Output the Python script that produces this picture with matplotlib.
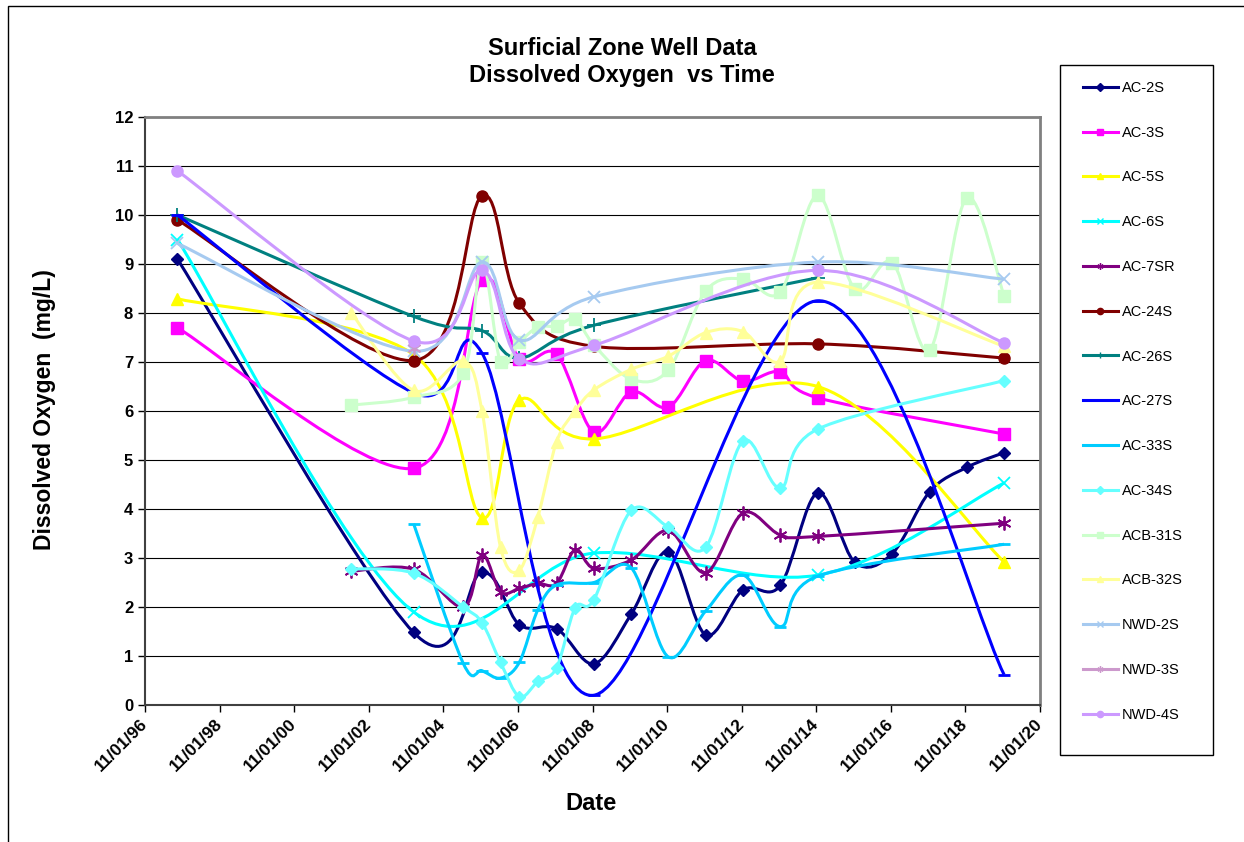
import numpy as np
import pandas as pd
import matplotlib
matplotlib.use('Agg')
import matplotlib.pyplot as plt
import matplotlib.dates as mdates
from matplotlib.path import Path
from matplotlib.patches import PathPatch, Rectangle
from matplotlib.lines import Line2D

plt.rcParams['font.family'] = ['Liberation Sans', 'DejaVu Sans']

# sample dates (year-month) and dissolved oxygen (mg/L) per well
ac2s_dates = ['1997-09', '2004-01', '2005-11', '2006-11', '2007-11', '2008-11', '2009-11', '2010-11',
              '2011-11', '2012-11', '2013-11', '2014-11', '2015-11', '2016-11', '2017-11', '2018-11', '2019-11']
ac2s_do = [9.1, 1.48, 2.71, 1.64, 1.56, 0.84, 1.85, 3.13, 1.43, 2.35, 2.44, 4.33, 2.91, 3.09, 4.35, 4.85, 5.15]

ac3s_dates = ['1997-09', '2004-01', '2005-11', '2006-11', '2007-11', '2008-11', '2009-11', '2010-11',
              '2011-11', '2012-11', '2013-11', '2014-11', '2019-11']
ac3s_do = [7.7, 4.83, 8.67, 7.06, 7.16, 5.57, 6.39, 6.08, 7.03, 6.61, 6.8, 6.27, 5.53]

ac5s_dates = ['1997-09', '2004-01', '2005-11', '2006-11', '2008-11', '2014-11', '2019-11']
ac5s_do = [8.29, 7.15, 3.82, 6.22, 5.43, 6.5, 2.92]

ac6s_dates = ['1997-09', '2004-01', '2008-11', '2014-11', '2019-11']
ac6s_do = [9.5, 1.9, 3.1, 2.65, 4.53]

ac7sr_dates = ['2002-05', '2004-01', '2005-05', '2005-11', '2006-05', '2006-11', '2007-05', '2007-11', '2008-05',
               '2008-11', '2009-11', '2010-11', '2011-11', '2012-11', '2013-11', '2014-11', '2019-11']
ac7sr_do = [2.73, 2.77, 2.0, 3.06, 2.31, 2.38, 2.48, 2.48, 3.17, 2.79, 2.96, 3.56, 2.7, 3.92, 3.47, 3.44, 3.71]

ac24s_dates = ['1997-09', '2004-01', '2005-11', '2006-11', '2008-11', '2014-11', '2019-11']
ac24s_do = [9.9, 7.03, 10.39, 8.2, 7.32, 7.37, 7.08]

ac26s_dates = ['1997-09', '2004-01', '2005-11', '2006-11', '2008-11', '2014-11']
ac26s_do = [10.0, 7.93, 7.64, 7.08, 7.75, 8.72]

ac27s_dates = ['1997-09', '2004-01', '2005-11', '2008-11', '2014-11', '2019-11']
ac27s_do = [10.0, 6.37, 7.18, 0.2, 8.25, 0.62]

ac33s_dates = ['2004-01', '2005-05', '2005-11', '2006-05', '2006-11', '2007-05', '2007-11', '2008-11', '2009-11',
               '2010-11', '2011-11', '2012-11', '2013-11', '2014-11', '2019-11']
ac33s_do = [3.7, 0.85, 0.7, 0.55, 0.87, 1.94, 2.45, 2.5, 2.8, 0.98, 1.92, 2.65, 1.6, 2.63, 3.28]

ac34s_dates = ['2002-05', '2004-01', '2005-05', '2005-11', '2006-05', '2006-11', '2007-05', '2007-11', '2008-05',
               '2008-11', '2009-11', '2010-11', '2011-11', '2012-11', '2013-11', '2014-11', '2019-11']
ac34s_do = [2.78, 2.69, 2.0, 1.68, 0.87, 0.17, 0.48, 0.76, 1.98, 2.15, 3.97, 3.63, 3.22, 5.39, 4.43, 5.63, 6.62]

acb31s_dates = ['2002-05', '2004-01', '2005-05', '2005-11', '2006-05', '2006-11', '2007-05', '2007-11', '2008-05',
                '2008-11', '2009-11', '2010-11', '2011-11', '2012-11', '2013-11', '2014-11', '2015-11',
                '2016-11', '2017-11', '2018-11', '2019-11']
acb31s_do = [6.12, 6.28, 6.77, 9.05, 7.0, 7.4, 7.71, 7.73, 7.87, 7.35, 6.65, 6.84, 8.45, 8.7, 8.43, 10.4, 8.49,
             9.03, 7.24, 10.35, 8.35]

acb32s_dates = ['2002-05', '2004-01', '2005-05', '2005-11', '2006-05', '2006-11', '2007-05', '2007-11', '2008-05',
                '2008-11', '2009-11', '2010-11', '2011-11', '2012-11', '2013-11', '2014-11', '2019-11']
acb32s_do = [8.0, 6.42, 7.02, 6.0, 3.22, 2.75, 3.83, 5.37, 6.0, 6.43, 6.85, 7.12, 7.6, 7.62, 7.02, 8.63, 7.32]

nwd2s_dates = ['1997-09', '2004-01', '2005-11', '2006-11', '2008-11', '2014-11', '2019-11']
nwd2s_do = [9.42, 7.22, 9.04, 7.45, 8.33, 9.04, 8.69]

nwd3s_dates = ['2004-01']
nwd3s_do = [7.28]

nwd4s_dates = ['1997-09', '2004-01', '2005-11', '2006-11', '2008-11', '2014-11', '2019-11']
nwd4s_do = [10.9, 7.43, 8.87, 7.07, 7.34, 8.87, 7.39]

asterisk = (6, 2, 0)
series = [
    ('AC-2S', ac2s_dates, ac2s_do, '#000080', 'D', 6.5),
    ('AC-3S', ac3s_dates, ac3s_do, '#FF00FF', 's', 8),
    ('AC-5S', ac5s_dates, ac5s_do, '#FFFF00', '^', 9),
    ('AC-6S', ac6s_dates, ac6s_do, '#00FFFF', 'x', 8),
    ('AC-7SR', ac7sr_dates, ac7sr_do, '#800080', asterisk, 10),
    ('AC-24S', ac24s_dates, ac24s_do, '#800000', 'o', 8),
    ('AC-26S', ac26s_dates, ac26s_do, '#008080', '+', 10),
    ('AC-27S', ac27s_dates, ac27s_do, '#0000FF', '_', 9),
    ('AC-33S', ac33s_dates, ac33s_do, '#00CCFF', '_', 9),
    ('AC-34S', ac34s_dates, ac34s_do, '#66FFFF', 'D', 6.5),
    ('ACB-31S', acb31s_dates, acb31s_do, '#CCFFCC', 's', 8),
    ('ACB-32S', acb32s_dates, acb32s_do, '#FFFF99', '^', 9),
    ('NWD-2S', nwd2s_dates, nwd2s_do, '#A6CAF0', 'x', 8),
    ('NWD-3S', nwd3s_dates, nwd3s_do, '#CC99CC', asterisk, 10),
    ('NWD-4S', nwd4s_dates, nwd4s_do, '#CC99FF', 'o', 8),
]


def smooth_path(x, y):
    # excel style smoothed line: cubic bezier through every point
    pts = np.column_stack([x, y])
    n = len(pts)
    verts = [pts[0]]
    codes = [Path.MOVETO]
    for i in range(n - 1):
        p0 = pts[i - 1] if i > 0 else pts[i]
        p1 = pts[i]
        p2 = pts[i + 1]
        p3 = pts[i + 2] if i + 2 < n else pts[i + 1]
        verts += [p1 + (p2 - p0) / 6, p2 - (p3 - p1) / 6, p2]
        codes += [Path.CURVE4] * 3
    return Path(verts, codes)


fig = plt.figure(figsize=(12.44, 8.42), dpi=100)
ax = fig.add_axes([145 / 1244, 1 - 705 / 842, 895 / 1244, 588 / 842])

handles = []
for i, (label, dates, vals, color, marker, ms) in enumerate(series):
    x = mdates.date2num(pd.to_datetime([d + '-15' for d in dates]))
    z = 3 + i * 0.1
    if len(x) > 1:
        ax.add_patch(PathPatch(smooth_path(x, vals), facecolor='none', edgecolor=color, lw=2.2, zorder=z))
    mew = 1.3 if marker in ('x', '+', asterisk) else (2.0 if marker == '_' else 1)
    ax.plot(x, vals, ls='none', marker=marker, ms=ms, mfc=color, mec=color, mew=mew, zorder=z + 0.05)
    handles.append(Line2D([0], [0], color=color, lw=2.2, marker=marker, ms=4.5, mfc=color, mec=color,
                          mew=1 if marker != '_' else 0, label=label))

ax.set_xlim(mdates.date2num(pd.Timestamp('1996-11-01')), mdates.date2num(pd.Timestamp('2020-11-01')))
ax.set_ylim(0, 12)
ax.set_yticks(range(0, 13))
ax.xaxis.set_major_locator(mdates.YearLocator(2, month=11, day=1))
ax.xaxis.set_major_formatter(mdates.DateFormatter('%m/%d/%y'))
ax.grid(axis='y', color='black', lw=0.8)
ax.set_axisbelow(True)

for s in ['top', 'right']:
    ax.spines[s].set_color('#808080')
    ax.spines[s].set_linewidth(2)
ax.spines['left'].set_color('#404040')
ax.spines['left'].set_linewidth(1.5)
ax.spines['bottom'].set_color('#404040')
ax.spines['bottom'].set_linewidth(1.5)

ax.tick_params(axis='y', direction='out', length=5, width=1, labelsize=12)
ax.tick_params(axis='x', direction='out', length=5, width=1, labelsize=12.5, pad=7)
for t in ax.get_yticklabels():
    t.set_fontweight('bold')
for t in ax.get_xticklabels():
    t.set_fontweight('bold')
    t.set_rotation(45)
    t.set_ha('right')
    t.set_va('center')
    t.set_rotation_mode('anchor')

fig.text(0.5, 1 - 62 / 842, 'Surficial Zone Well Data\nDissolved Oxygen  vs Time', ha='center', va='center',
         fontsize=17, fontweight='bold', linespacing=1.25)
fig.text(45 / 1244, 1 - 410 / 842, 'Dissolved Oxygen  (mg/L)', rotation=90, ha='center', va='center',
         fontsize=16.5, fontweight='bold')
fig.text(591 / 1244, 1 - 803 / 842, 'Date', ha='center', va='center', fontsize=17, fontweight='bold')

leg = fig.legend(handles=handles, loc='upper left', bbox_to_anchor=(1072 / 1244, 1 - 70 / 842),
                 fontsize=10.5, labelspacing=2.11, borderpad=0.75, handlelength=2.4, handletextpad=0.25,
                 frameon=False, borderaxespad=0)
fig.patches.append(Rectangle((1060 / 1244, 1 - 755 / 842), 153 / 1244, 690 / 842, transform=fig.transFigure,
                             fill=False, edgecolor='black', lw=1))

fig.patches.append(Rectangle((8 / 1244, -0.1), 1.2, 1.1 - 6 / 842, transform=fig.transFigure, fill=False,
                             edgecolor='black', lw=1))

fig.savefig('out.png', dpi=100)
